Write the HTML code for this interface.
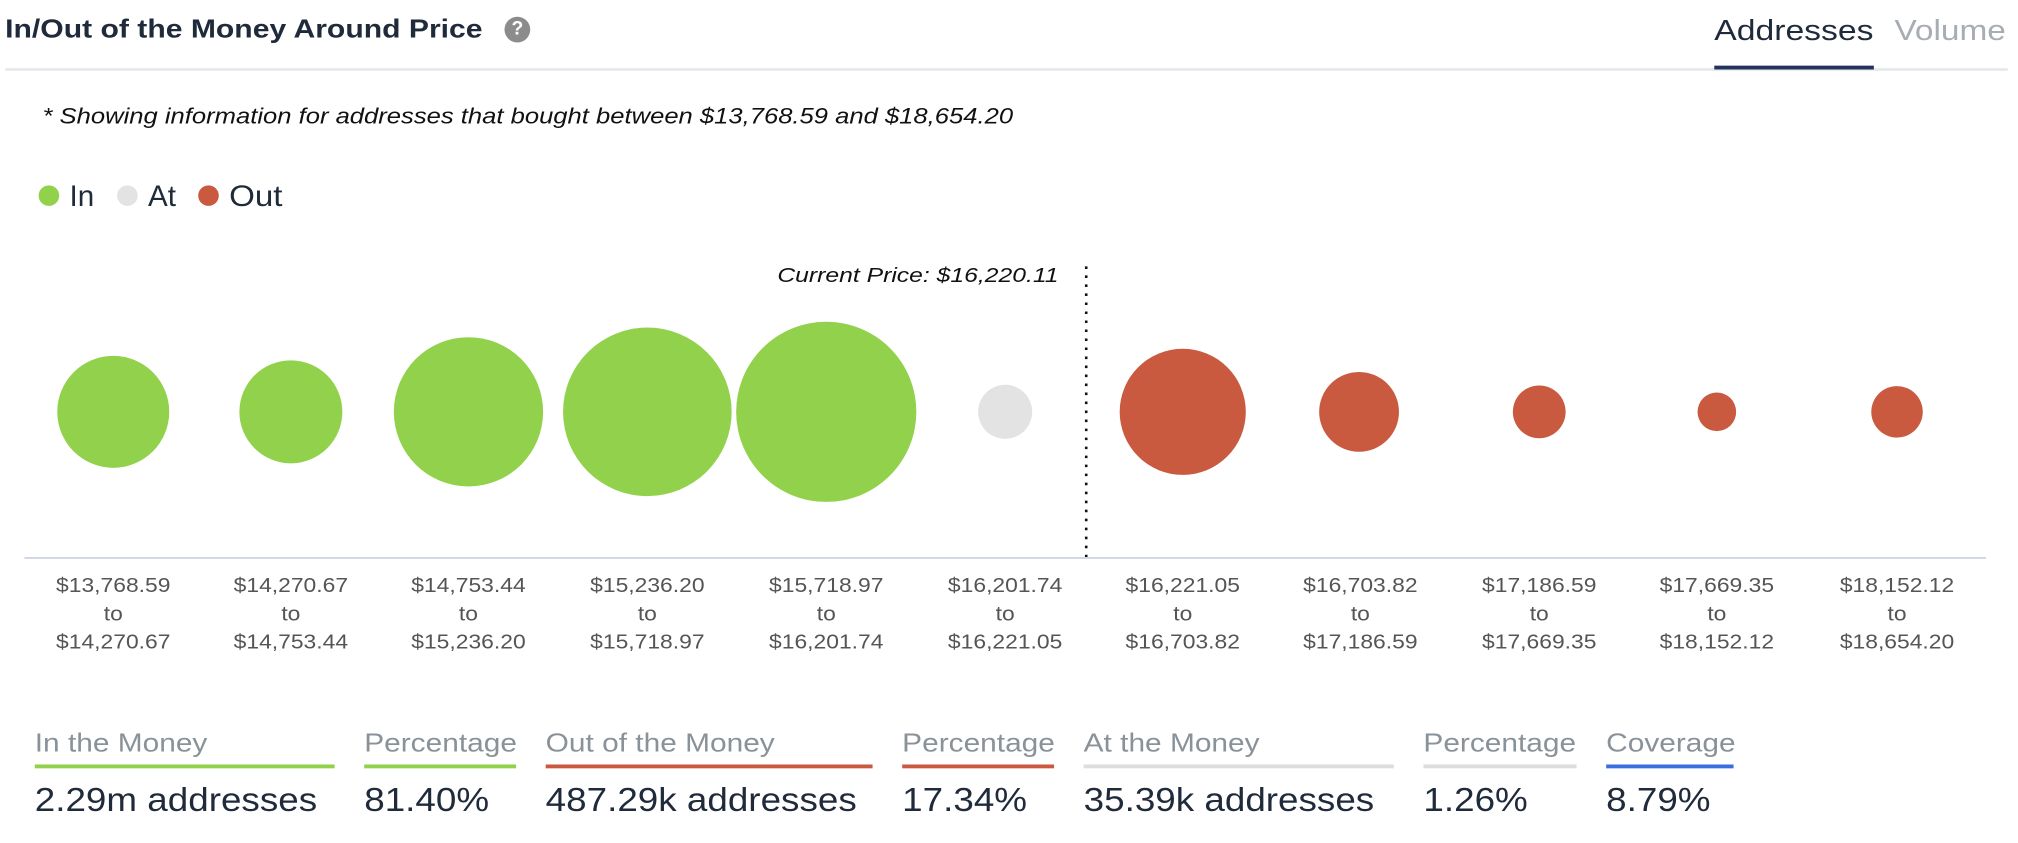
<!DOCTYPE html>
<html><head><meta charset="utf-8"><style>
html,body{margin:0;padding:0;background:#fff;width:2018px;height:842px;overflow:hidden}
#w{position:absolute;left:0;top:0;width:1568px;height:655px;transform:scale(1.28699);transform-origin:0 0;font-family:"Liberation Sans",sans-serif}
.a{position:absolute;white-space:nowrap;transform-origin:0 0}
.lab{position:absolute;width:120px;text-align:center;font-size:16px;color:#555;line-height:22px;top:445px;transform:scaleX(1.11)}
.st{position:absolute;top:567px}
.st .t{font-size:20px;color:#8a9299;height:25px;white-space:nowrap;transform:scaleX(1.16);transform-origin:0 0}
.st .b{height:3px;margin-top:2px}
.st .v{font-size:26px;color:#1f2a3a;margin-top:9px;white-space:nowrap;transform:scaleX(1.1);transform-origin:0 0}
</style></head><body><div id="w">
<div class="a" style="left:4px;top:12px;font-size:20px;font-weight:bold;color:#1f2a3a;transform:scaleX(1.17)">In/Out of the Money Around Price</div>
<div class="a" style="left:392px;top:13px;width:20px;height:20px;border-radius:50%;background:#8c8c8c;color:#fff;font-size:15px;font-weight:bold;text-align:center;line-height:20px">?</div>
<div class="a" style="left:1332px;top:11px;font-size:22px;color:#1f2a3a;transform:scaleX(1.19)">Addresses</div>
<div class="a" style="left:1472px;top:11px;font-size:22px;color:#a8adb3;transform:scaleX(1.18)">Volume</div>
<div class="a" style="left:4px;top:53px;width:1556px;height:2px;background:#e4e8ec"></div>
<div class="a" style="left:1332px;top:51px;width:124px;height:3px;background:#24335c"></div>
<div class="a" style="left:33px;top:81px;font-size:17px;font-style:italic;color:#111;transform:scaleX(1.17)">* Showing information for addresses that bought between $13,768.59 and $18,654.20</div>
<div class="a" style="left:30px;top:144px;width:16px;height:16px;border-radius:50%;background:#92d14b"></div>
<div class="a" style="left:54px;top:139px;font-size:23px;color:#1f2a3a">In</div>
<div class="a" style="left:91px;top:144px;width:16px;height:16px;border-radius:50%;background:#e3e3e3"></div>
<div class="a" style="left:115px;top:139px;font-size:23px;color:#1f2a3a">At</div>
<div class="a" style="left:154px;top:144px;width:16px;height:16px;border-radius:50%;background:#c95a40"></div>
<div class="a" style="left:178px;top:139px;font-size:23px;color:#1f2a3a;transform:scaleX(1.12)">Out</div>
<div class="a" style="left:604px;top:206px;font-size:16px;font-style:italic;color:#111;transform:scaleX(1.2)">Current Price: $16,220.11</div>
<svg class="a" style="left:0;top:0" width="1568" height="655">
<line x1="844" y1="207" x2="844" y2="433" stroke="#111" stroke-width="2" stroke-dasharray="2,5"/>
<line x1="19" y1="433.5" x2="1543" y2="433.5" stroke="#cdd6e2" stroke-width="1.5"/>
<g fill="#92d14b"><circle cx="88" cy="320" r="43.5"/><circle cx="226" cy="320" r="40"/><circle cx="364" cy="320" r="58"/><circle cx="503" cy="320" r="65.5"/><circle cx="642" cy="320" r="70"/></g>
<circle cx="781" cy="320" r="21" fill="#e3e3e3"/>
<g fill="#c95a40"><circle cx="919" cy="320" r="49"/><circle cx="1056" cy="320" r="31"/><circle cx="1196" cy="320" r="20.5"/><circle cx="1334" cy="320" r="15"/><circle cx="1474" cy="320" r="20"/></g>
</svg>
<div class="lab" style="left:28px">$13,768.59<br>to<br>$14,270.67</div>
<div class="lab" style="left:166px">$14,270.67<br>to<br>$14,753.44</div>
<div class="lab" style="left:304px">$14,753.44<br>to<br>$15,236.20</div>
<div class="lab" style="left:443px">$15,236.20<br>to<br>$15,718.97</div>
<div class="lab" style="left:582px">$15,718.97<br>to<br>$16,201.74</div>
<div class="lab" style="left:721px">$16,201.74<br>to<br>$16,221.05</div>
<div class="lab" style="left:859px">$16,221.05<br>to<br>$16,703.82</div>
<div class="lab" style="left:997px">$16,703.82<br>to<br>$17,186.59</div>
<div class="lab" style="left:1136px">$17,186.59<br>to<br>$17,669.35</div>
<div class="lab" style="left:1274px">$17,669.35<br>to<br>$18,152.12</div>
<div class="lab" style="left:1414px">$18,152.12<br>to<br>$18,654.20</div>
<div class="st" style="left:27px;width:233px"><div class="t">In the Money</div><div class="b" style="background:#92d14b"></div><div class="v">2.29m addresses</div></div>
<div class="st" style="left:283px;width:118px"><div class="t">Percentage</div><div class="b" style="background:#92d14b"></div><div class="v">81.40%</div></div>
<div class="st" style="left:424px;width:254px"><div class="t">Out of the Money</div><div class="b" style="background:#c95a40"></div><div class="v">487.29k addresses</div></div>
<div class="st" style="left:701px;width:118px"><div class="t">Percentage</div><div class="b" style="background:#c95a40"></div><div class="v">17.34%</div></div>
<div class="st" style="left:842px;width:241px"><div class="t">At the Money</div><div class="b" style="background:#dddddd"></div><div class="v">35.39k addresses</div></div>
<div class="st" style="left:1106px;width:119px"><div class="t">Percentage</div><div class="b" style="background:#dddddd"></div><div class="v">1.26%</div></div>
<div class="st" style="left:1248px;width:99px"><div class="t">Coverage</div><div class="b" style="background:#3b6fe0"></div><div class="v">8.79%</div></div>
</div></body></html>
